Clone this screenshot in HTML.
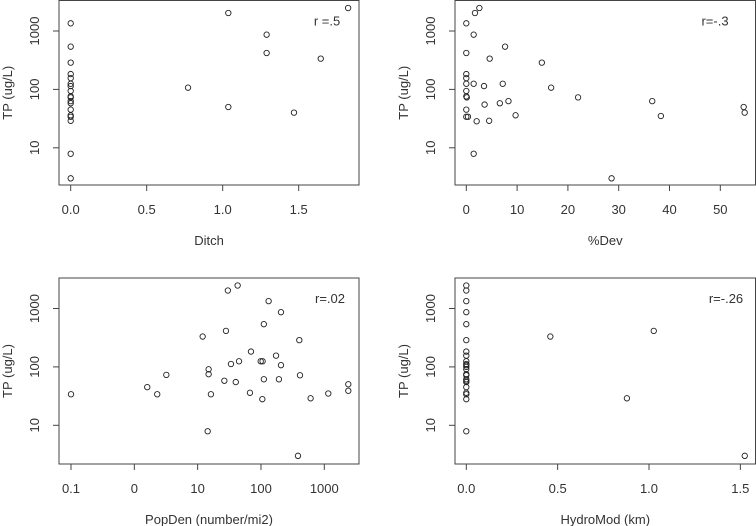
<!DOCTYPE html>
<html><head><meta charset="utf-8"><style>
html,body{margin:0;padding:0;background:#fff;}
svg{display:block;font-family:"Liberation Sans",Arial,sans-serif;}
text{fill:#333;font-size:13px;}
</style></head><body>
<svg id="chart" width="756" height="526" viewBox="0 0 756 526" xmlns="http://www.w3.org/2000/svg"></svg>
<script>
// Panel 1: Ditch
const ditchX = [0,0,0,0,0,0,0,0,0,0,0,0,0,0,0,0,0,0,0.772,1.037,1.037,1.289,1.289,1.469,1.645,1.825];
const ditchTP = [1353,539,287,183,156,125,114,94,76,73,63,58,45,36,34,29,7.9,3,107,2035,50,865,420,40,336,2477];
// Panel 2: %Dev
const devX = [0,1.71,2.57,1.45,0,7.63,4.6,14.87,0,0,0,1.45,3.49,7.17,16.7,0,0,0.1,22.0,36.6,8.3,6.6,3.6,0,54.6,54.8,0,0.33,38.3,9.7,2.04,4.5,1.45,28.6];
const devTP = [1353,2035,2477,865,420,539,336,287,183,156,125,125,114,125,107,94,76,73,73,63,63,58,55,45,50,40,34,34,35,36,28.5,29,7.9,3];
// Panel 3: PopDen (log x)
const popX = [0.1,1.6,2.3,3.2,12,14.9,14.9,16.2,14.4,26.4,28,30,33.6,42.8,45,40,69.5,67,99,106,105,111,111,132,173,207,207,192,403,413,384,608,1156,2393,2393];
const popTP = [34,45,34,73,331,91,75,34,7.9,58,414,2035,112,2477,125,55,183,36,125,125,28,539,61.5,1336,156,865,107,61.5,287,72,3,29,35,50.5,39];
// Panel 4: HydroMod
const hydroX = [0,0,0,0,0,0,0,0,0,0,0,0,0,0,0,0,0,0,0,0,0,0,0,0.46,0.879,1.026,1.524];
const hydroTP = [2477,2035,1336,865,539,287,183,156,125,112,107,100,91,75,72,61.5,58,55,45,36,34,28,7.9,331,29,414,3];
// Tick labels
const yTicks = [10,100,1000];
const yTickLabels = ["10","100","1000"];
const ditchTicks = [0,0.5,1.0,1.5];
const ditchTickLabels = ["0.0","0.5","1.0","1.5"];
const devTicks = [0,10,20,30,40,50];
const devTickLabels = ["0","10","20","30","40","50"];
const popTicks = [0.1,1,10,100,1000];
const popTickLabels = ["0.1","0","10","100","1000"];
const hydroTicks = [0,0.5,1.0,1.5];
const hydroTickLabels = ["0.0","0.5","1.0","1.5"];
const rLabels = ["r =.5","r=-.3","r=.02","r=-.26"];
const xTitles = ["Ditch","%Dev","PopDen (number/mi2)","HydroMod (km)"];

const NS="http://www.w3.org/2000/svg";
const svg=document.getElementById('chart');
function mk(tag,attrs,parent){const e=document.createElementNS(NS,tag);for(const k in attrs)e.setAttribute(k,attrs[k]);(parent||svg).appendChild(e);return e;}

const panels=[
 {xs:ditchX,ys:ditchTP,ticks:ditchTicks,tl:ditchTickLabels,left:59,right:359,top:0.5,bottom:185,x0:70.7,x1:222.7,v0:0,v1:1,log:false,rx:327,name:'ditch'},
 {xs:devX,ys:devTP,ticks:devTicks,tl:devTickLabels,left:455,right:755.5,top:0.5,bottom:185,x0:466.3,x1:720.3,v0:0,v1:50,log:false,rx:715,name:'dev'},
 {xs:popX,ys:popTP,ticks:popTicks,tl:popTickLabels,left:59,right:359,top:278,bottom:464,x0:71,x1:324.3,v0:-1,v1:3,log:true,rx:330,name:'popden'},
 {xs:hydroX,ys:hydroTP,ticks:hydroTicks,tl:hydroTickLabels,left:455,right:755.5,top:278,bottom:464,x0:466.3,x1:649,v0:0,v1:1,log:false,rx:726,name:'hydromod'}
];

panels.forEach((p,i)=>{
  const g=mk('g',{});
  
  
  const xf=v=>{const t=p.log?Math.log10(v):v;return p.x0+(t-p.v0)/(p.v1-p.v0)*(p.x1-p.x0);};
  const y1000=p.top+30.5, dec=58.4;
  const yf=v=>y1000-(Math.log10(v)-3)*dec;
  const box=mk('rect',{x:p.left,y:p.top,width:p.right-p.left,height:p.bottom-p.top,fill:'none',stroke:'#444','stroke-width':1},g);
  
  
  // y axis
  const ya=mk('g',{},g);
  
  
  mk('line',{x1:p.left,x2:p.left,y1:yf(yTicks[0]),y2:yf(yTicks[yTicks.length-1]),stroke:'#444'},ya);
  yTicks.forEach((t,j)=>{
    const y=yf(t);
    mk('line',{x1:p.left-6,x2:p.left,y1:y,y2:y,stroke:'#444'},ya);
    const tx=mk('text',{x:0,y:0,'text-anchor':'middle',transform:`translate(${p.left-20},${y}) rotate(-90)`},ya);
    tx.textContent=yTickLabels[j];
    
    
  });
  const yt=mk('text',{x:0,y:0,'text-anchor':'middle',transform:`translate(${p.left-47},${(p.top+p.bottom)/2}) rotate(-90)`},g);
  yt.textContent='TP (ug/L)';
  
  
  // x axis
  const xa=mk('g',{},g);
  
  
  mk('line',{x1:xf(p.ticks[0]),x2:xf(p.ticks[p.ticks.length-1]),y1:p.bottom,y2:p.bottom,stroke:'#444'},xa);
  p.ticks.forEach((t,j)=>{
    const x=xf(t);
    mk('line',{x1:x,x2:x,y1:p.bottom,y2:p.bottom+6,stroke:'#444'},xa);
    const tx=mk('text',{x:x,y:p.bottom+29,'text-anchor':'middle'},xa);
    tx.textContent=p.tl[j];
    
    
  });
  const xt=mk('text',{x:(p.left+p.right)/2,y:p.bottom+60,'text-anchor':'middle'},g);
  xt.textContent=xTitles[i];
  
  
  const rl=mk('text',{x:p.rx,y:p.top+25,'text-anchor':'middle'},g);
  rl.textContent=rLabels[i];
  
  
  p.xs.forEach((xv,k)=>{
    const c=mk('circle',{cx:xf(xv),cy:yf(p.ys[k]),r:2.7,fill:'none',stroke:'#222','stroke-width':0.9},g);
    
    
  });
});
</script>
</body></html>
